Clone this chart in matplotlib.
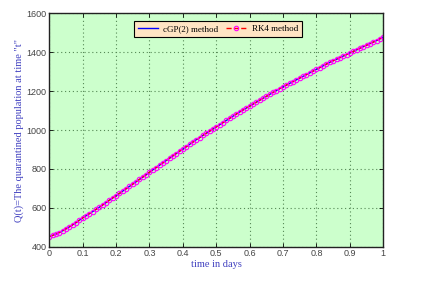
import numpy as np
import matplotlib
matplotlib.use('Agg')
import matplotlib.pyplot as plt

# time grid (days) and Q(t)
t = np.linspace(0, 1, 101)
q_cgp = [452, 458, 465, 473, 482, 492, 502, 513, 524, 536,
         548, 559, 570, 581, 592, 603, 615, 627, 639, 651,
         662, 674, 686, 698, 710, 722, 734, 746, 758, 770,
         783, 795, 807, 819, 831, 843, 855, 867, 879, 891,
         902, 914, 926, 938, 950, 961, 972, 983, 994, 1005,
         1016, 1027, 1038, 1049, 1060, 1071, 1082, 1093, 1103, 1113,
         1123, 1133, 1143, 1153, 1163, 1173, 1183, 1193, 1203, 1213,
         1222, 1231, 1240, 1249, 1258, 1267, 1276, 1285, 1294, 1303,
         1312, 1321, 1330, 1339, 1348, 1356, 1364, 1372, 1380, 1388,
         1396, 1404, 1412, 1420, 1428, 1436, 1444, 1452, 1460, 1469,
         1478]
q_rk4 = list(q_cgp)

xticks = [0, 0.1, 0.2, 0.3, 0.4, 0.5, 0.6, 0.7, 0.8, 0.9, 1]
xticklabels = ['0', '0.1', '0.2', '0.3', '0.4', '0.5', '0.6', '0.7', '0.8', '0.9', '1']
yticks = [400, 600, 800, 1000, 1200, 1400, 1600]

fig = plt.figure(figsize=(4.35, 2.84), dpi=100)
ax = fig.add_axes([0.1133, 0.1313, 0.7678, 0.8219])
ax.set_facecolor('#ccffcc')

ax.plot(t, q_cgp, '-', color='#0000ff', lw=1.0, label='cGP(2) method')
ax.plot(t, q_rk4, '--', color='#ff0000', lw=1.0, marker='o', markersize=3.2,
        markerfacecolor='none', markeredgecolor='#ff00ff', markeredgewidth=0.8,
        label='RK4 method')

ax.set_xlim(0, 1)
ax.set_ylim(400, 1600)
ax.set_xticks(xticks)
ax.set_xticklabels(xticklabels)
ax.set_yticks(yticks)
ax.tick_params(direction='in', top=True, right=True, length=3, width=0.6,
               labelsize=6.5, labelcolor='#444444', pad=2)
for lab in ax.get_xticklabels() + ax.get_yticklabels():
    lab.set_family('Liberation Sans')
for s in ax.spines.values():
    s.set_linewidth(1.0)
    s.set_color('#222222')

ax.grid(True, linestyle=(0, (1, 2.5)), color='#558855', linewidth=0.8)

ax.set_xlabel('time in days', family='Liberation Serif', fontsize=7.5,
              color='#4040c0', labelpad=1)
ax.set_ylabel('Q(t)=The quarantined population at time "t"', family='Liberation Serif',
              fontsize=7.5, color='#4040c0', labelpad=2)

leg = ax.legend(loc='upper center', bbox_to_anchor=(0.505, 0.985), ncol=2,
                prop={'family': 'Liberation Serif', 'size': 6.5},
                frameon=True, fancybox=False, handlelength=2.2, columnspacing=0.9,
                borderpad=0.4, handletextpad=0.6)
leg.get_frame().set_facecolor('#ffe4c4')
leg.get_frame().set_edgecolor('black')
leg.get_frame().set_linewidth(0.8)
leg.get_frame().set_alpha(1)

fig.savefig('out.png', dpi=100)
